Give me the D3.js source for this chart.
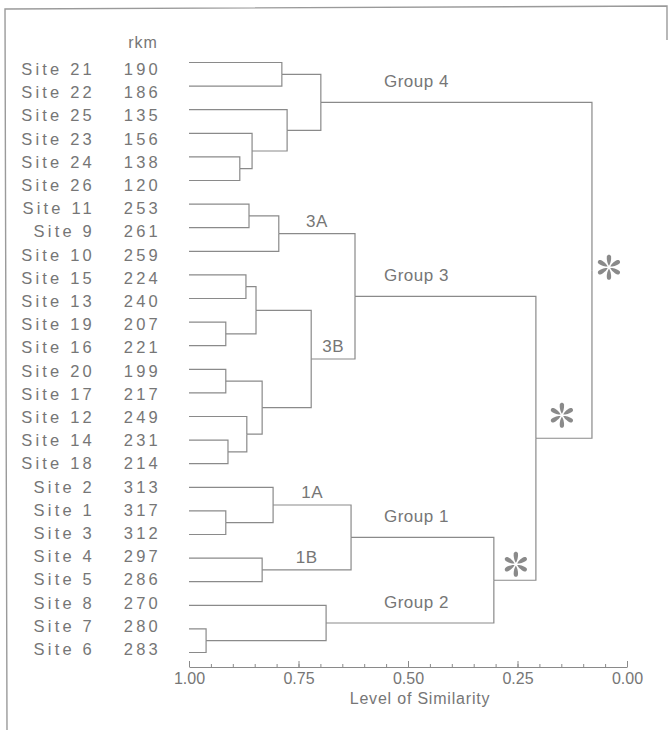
<!DOCTYPE html>
<html>
<head>
<meta charset="utf-8">
<script src="https://cdn.jsdelivr.net/npm/d3@7"></script>
<style>
  body { margin: 0; background: #fff; }
  svg { display: block; font-family: "Liberation Sans", Arial, Helvetica, sans-serif; }
  .site, .rkm { font-size: 16.5px; letter-spacing: 3.2px; fill: #767676; }
  .lbl { font-size: 17px; letter-spacing: 0.5px; fill: #767676; }
  .link { fill: none; stroke: #8a8a8a; stroke-width: 1.2; }
  .axis text { font-size: 16px; fill: #767676; font-family: "Liberation Sans", Arial, sans-serif; }
  .axis path, .axis line { stroke: #8a8a8a; }
</style>
</head>
<body>
<svg id="chart" width="669" height="730"></svg>
<script>
// leaves, top to bottom
const siteNames = ["Site 21","Site 22","Site 25","Site 23","Site 24","Site 26",
  "Site 11","Site 9","Site 10","Site 15","Site 13","Site 19","Site 16",
  "Site 20","Site 17","Site 12","Site 14","Site 18",
  "Site 2","Site 1","Site 3","Site 4","Site 5","Site 8","Site 7","Site 6"];
const siteRkm = [190,186,135,156,138,120,253,261,259,224,240,207,221,
  199,217,249,231,214,313,317,312,297,286,270,280,283];

// [node, left, right, level of similarity]
const merges = [
  ["m1","Site 21","Site 22",0.788],
  ["m2","Site 24","Site 26",0.884],
  ["m3","Site 23","m2",0.856],
  ["m4","Site 25","m3",0.776],
  ["G4","m1","m4",0.699],
  ["m6","Site 11","Site 9",0.863],
  ["3A","m6","Site 10",0.795],
  ["m8","Site 15","Site 13",0.870],
  ["m9","Site 19","Site 16",0.916],
  ["m10","m8","m9",0.847],
  ["m11","Site 20","Site 17",0.916],
  ["m12","Site 14","Site 18",0.911],
  ["m13","Site 12","m12",0.868],
  ["m14","m11","m13",0.833],
  ["3B","m10","m14",0.721],
  ["G3","3A","3B",0.621],
  ["m17","Site 1","Site 3",0.916],
  ["1A","Site 2","m17",0.808],
  ["1B","Site 4","Site 5",0.833],
  ["G1","1A","1B",0.630],
  ["m21","Site 7","Site 6",0.961],
  ["G2","Site 8","m21",0.687],
  ["G12","G1","G2",0.304],
  ["G123","G3","G12",0.208],
  ["root","G4","G123",0.080]
];

const groupLabels = [["G4","Group 4"],["G3","Group 3"],["G1","Group 1"],["G2","Group 2"]];
const subLabels = [["3A","3A"],["3B","3B"],["1A","1A"],["1B","1B"]];
const starNodes = ["root","G123","G12"];
const majorTicks = [1, 0.75, 0.5, 0.25, 0];
const minorTicks = d3.range(0, 21).map(i => i / 20);

const svg = d3.select("#chart");

// scanned page frame
svg.append("path")
  .attr("d", "M7,730 L5,9 L667,6 L667,40")
  .attr("fill", "none").attr("stroke", "#9a9a9a").attr("stroke-width", 1.4);

// build the tree
const nodes = {};
siteNames.forEach((s, i) => { nodes[s] = {name: s, sim: 1, rkm: siteRkm[i]}; });
merges.forEach(m => { nodes[m[0]] = {name: m[0], sim: m[3], children: [nodes[m[1]], nodes[m[2]]]}; });
const root = d3.hierarchy(nodes["root"]);

const x = d3.scaleLinear().domain([1, 0]).range([189, 627]);
const yLine = d3.scalePoint().domain(siteNames).range([62.5, 652.5]);
const yText = d3.scalePoint().domain(siteNames).range([75, 655]);

root.eachAfter(d => {
  d.px = x(d.data.sim);
  d.py = d.children ? d3.mean(d.children, c => c.py) : yLine(d.data.name);
});
const byName = {};
root.each(d => { byName[d.data.name] = d; });

// elbows
svg.append("g").selectAll("path")
  .data(root.links())
  .join("path")
  .attr("class", "link")
  .attr("d", l => `M${l.target.px},${l.target.py}H${l.source.px}V${l.source.py}`);

// site names and river km
svg.append("text").attr("class", "rkm")
  .attr("x", 143).attr("y", 48).attr("text-anchor", "middle")
  .style("letter-spacing", "1px").style("font-size", "16px").text("rkm");

svg.append("g").selectAll("text")
  .data(siteNames)
  .join("text")
  .attr("class", "site")
  .attr("x", 95).attr("y", d => yText(d))
  .attr("text-anchor", "end")
  .text(d => d);

svg.append("g").selectAll("text")
  .data(siteNames)
  .join("text")
  .attr("class", "rkm")
  .attr("x", 161).attr("y", d => yText(d))
  .attr("text-anchor", "end")
  .text((d, i) => siteRkm[i]);

// cluster labels
svg.append("g").selectAll("text")
  .data(groupLabels)
  .join("text")
  .attr("class", "lbl")
  .attr("x", x(0.555))
  .attr("y", d => byName[d[0]].py - 15)
  .text(d => d[1]);

svg.append("g").selectAll("text")
  .data(subLabels)
  .join("text")
  .attr("class", "lbl")
  .attr("text-anchor", "middle")
  .attr("x", d => (byName[d[0]].px + byName[d[0]].parent.px) / 2)
  .attr("y", d => byName[d[0]].py - 7)
  .text(d => d[1]);

// significance asterisks: six tapered petals
const petal = "M0,-1.5 C1.8,-4 2.6,-9 2,-11 C1.4,-13 -1.4,-13 -2,-11 C-2.6,-9 -1.8,-4 0,-1.5 Z";
const starOffset = {root: [17, -3], G123: [26, -23], G12: [22, -16]};
const stars = svg.append("g").selectAll("g")
  .data(starNodes)
  .join("g")
  .attr("transform", d => `translate(${byName[d].px + starOffset[d][0]},${byName[d].py + starOffset[d][1]})`)
  .attr("fill", "#8a8a8a");
stars.selectAll("path")
  .data(d3.range(6))
  .join("path")
  .attr("d", petal)
  .attr("transform", i => `rotate(${i * 60})`);

// axis
const axisY = 667;
svg.append("g")
  .attr("class", "axis")
  .attr("transform", `translate(0,${axisY})`)
  .call(d3.axisBottom(x).tickValues(minorTicks).tickSizeInner(-3).tickSizeOuter(0).tickFormat(""));
svg.append("g")
  .attr("class", "axis")
  .attr("transform", `translate(0,${axisY})`)
  .call(d3.axisBottom(x).tickValues(majorTicks).tickSizeInner(-6).tickSizeOuter(0)
    .tickPadding(6).tickFormat(d3.format(".2f")))
  .call(g => g.select(".domain").remove());

svg.append("text")
  .attr("x", 420).attr("y", 704)
  .attr("text-anchor", "middle")
  .style("font-size", "16px").style("letter-spacing", "0.8px").style("fill", "#767676")
  .text("Level of Similarity");
</script>
</body>
</html>
